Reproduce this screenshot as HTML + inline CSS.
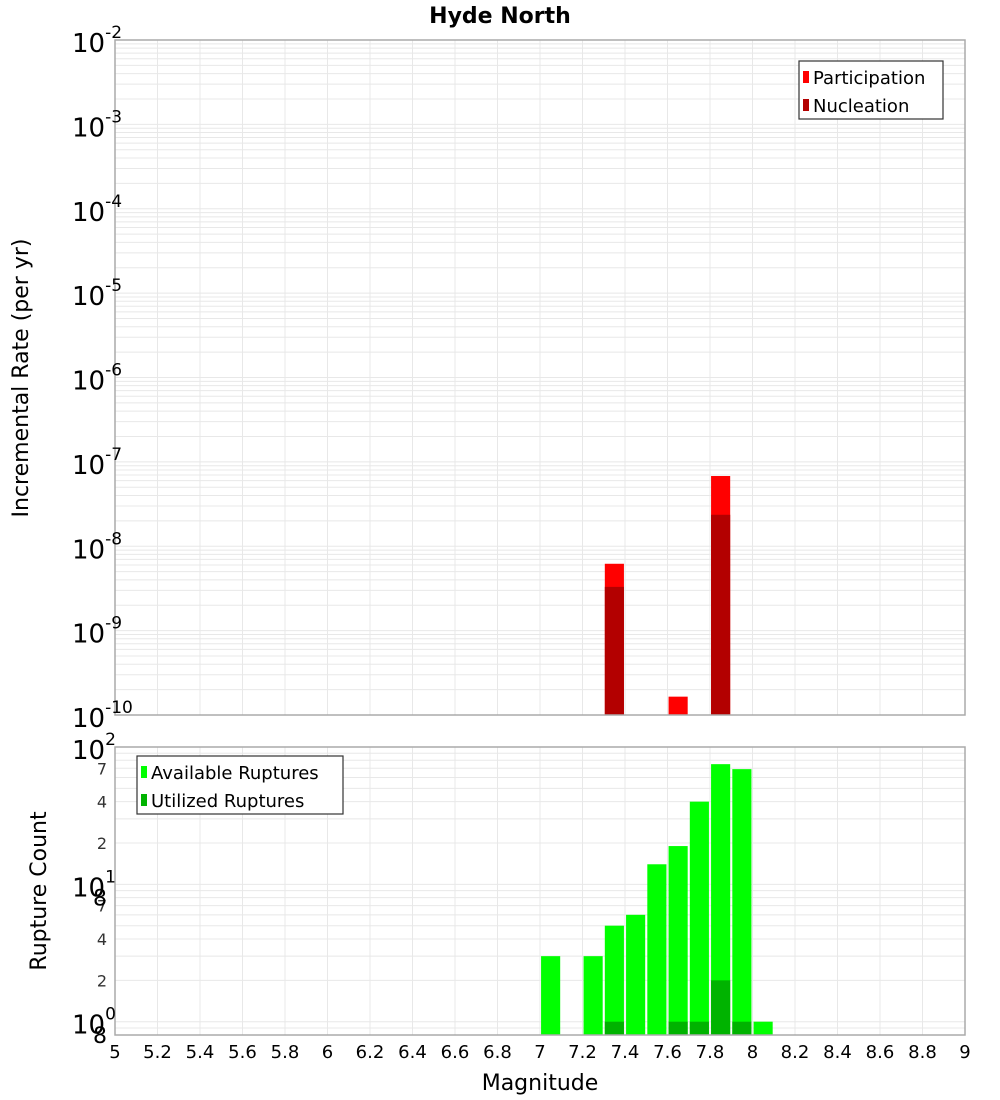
<!DOCTYPE html>
<html><head><meta charset="utf-8"><style>
body{margin:0;background:#fff;}
svg{display:block;font-family:"DejaVu Sans","Liberation Sans",sans-serif;}
</style></head><body>
<svg id="c" width="1000" height="1100" viewBox="0 0 1000 1100">
<text x="500" y="23" text-anchor="middle" font-size="22" font-weight="bold">Hyde North</text>
<text transform="translate(28,378) rotate(-90)" text-anchor="middle" font-size="22">Incremental Rate (per yr)</text>
<text transform="translate(46,891) rotate(-90)" text-anchor="middle" font-size="22">Rupture Count</text>
<text x="540" y="1090" text-anchor="middle" font-size="22">Magnitude</text>
<g id="g"></g>
</svg>
<script>
const mags=[7.05,7.25,7.35,7.45,7.55,7.65,7.75,7.85,7.95,8.05];
const available=[3,3,5,6,14,19,40,75,69,1];
const utilized=[0,0,1,0,0,1,1,2,1,0];
const rateMags=[7.35,7.65,7.85];
const participation=[6.2e-9,1.65e-10,6.8e-8];
const nucleation=[3.3e-9,0,2.36e-8];
const xTicks=[5,5.2,5.4,5.6,5.8,6,6.2,6.4,6.6,6.8,7,7.2,7.4,7.6,7.8,8,8.2,8.4,8.6,8.8,9];
const topExps=[-2,-3,-4,-5,-6,-7,-8,-9,-10];

const NS="http://www.w3.org/2000/svg";
const g=document.getElementById('g');
function mk(t,a,p){const e=document.createElementNS(NS,t);for(const k in a)e.setAttribute(k,a[k]);(p||g).appendChild(e);return e;}
const X0=115,X1=965;
const x=m=>X0+(m-5)/4*(X1-X0);
const T0=40,T1=715;
const yTop=v=>T0+(-2-Math.log10(v))/8*(T1-T0);
const B0=747,B1=1035,bMin=Math.log10(0.8);
const yBot=v=>B0+(2-Math.log10(v))/(2-bMin)*(B1-B0);

// grids
function vgrid(t,b){xTicks.forEach(m=>{const l=mk('line',{x1:x(m),x2:x(m),y1:t,y2:b,stroke:'#e8e8e8','stroke-width':1});});}
vgrid(T0,T1);vgrid(B0,B1);
for(let e=-10;e<-2;e++)for(let k=1;k<10;k++){const y=yTop(k*Math.pow(10,e));const l=mk('line',{x1:X0,x2:X1,y1:y,y2:y,stroke:'#e8e8e8'});}
for(let e=-1;e<2;e++)for(let k=1;k<10;k++){const v=k*Math.pow(10,e);if(v<0.8)continue;const y=yBot(v);const l=mk('line',{x1:X0,x2:X1,y1:y,y2:y,stroke:'#e8e8e8'});}

// top bars
const bw=0.09;
rateMags.forEach((m,i)=>{
 if(participation[i]>0){const y=yTop(participation[i]);const r=mk('rect',{x:x(m-bw/2),y:y,width:x(m+bw/2)-x(m-bw/2),height:T1-y,fill:'#ff0000'});}
 if(nucleation[i]>0){const y=yTop(nucleation[i]);const r=mk('rect',{x:x(m-bw/2),y:y,width:x(m+bw/2)-x(m-bw/2),height:T1-y,fill:'#b30000'});}
});
// bottom bars
mags.forEach((m,i)=>{
 if(available[i]>0){const y=yBot(available[i]);const r=mk('rect',{x:x(m-bw/2),y:y,width:x(m+bw/2)-x(m-bw/2),height:B1-y,fill:'#00ff00'});}
 if(utilized[i]>0){const y=yBot(utilized[i]);const r=mk('rect',{x:x(m-bw/2),y:y,width:x(m+bw/2)-x(m-bw/2),height:B1-y,fill:'#00b300'});}
});
// frames
let f=mk('rect',{x:X0,y:T0,width:X1-X0,height:T1-T0,fill:'none',stroke:'#aaa','stroke-width':1.5});
f=mk('rect',{x:X0,y:B0,width:X1-X0,height:B1-B0,fill:'none',stroke:'#aaa','stroke-width':1.5});

// top y labels
topExps.forEach(e=>{const y=yTop(Math.pow(10,e));const t=mk('text',{x:72,y:y+12,'font-size':26});t.textContent='10';const s=mk('tspan',{dy:-14,'font-size':17},t);s.textContent=String(e);});
// bottom y labels
[[100,'2'],[10,'1'],[1,'0']].forEach(([v,e])=>{const y=yBot(v);const t=mk('text',{x:72,y:y+12,'font-size':26});t.textContent='10';const s=mk('tspan',{dy:-14,'font-size':17},t);s.textContent=e;});
[7,4,2,0.8].forEach(v=>{[1,10].forEach(sc=>{const val=v*sc;if(val<0.8||val>100)return;const y=yBot(val);const t=mk('text',{x:v===0.8?107:107,y:y+(v===0.8?8:6),'font-size':v===0.8?22:16,'text-anchor':'end',fill:v===0.8?'#000':'#333'});t.textContent=String(v===0.8?8:v);});});
// x labels
xTicks.forEach(m=>{const t=mk('text',{x:x(m),y:1058,'font-size':18,'text-anchor':'middle'});t.textContent=String(m);});

// legends
function legend(x0,y0,w,items,name){const lg=mk('g',{});
 mk('rect',{x:x0,y:y0,width:w,height:58,fill:'#fff',stroke:'#333','stroke-width':1.2},lg);
 items.forEach(([c,lab],i)=>{mk('rect',{x:x0+4,y:y0+10+i*28,width:6,height:12,fill:c},lg);const t=mk('text',{x:x0+14,y:y0+23+i*28,'font-size':18},lg);t.textContent=lab;});}
legend(799,61,144,[['#ff0000','Participation'],['#b30000','Nucleation']],'top-legend');
legend(137,756,206,[['#00ff00','Available Ruptures'],['#00b300','Utilized Ruptures']],'bottom-legend');
</script>
</body></html>
